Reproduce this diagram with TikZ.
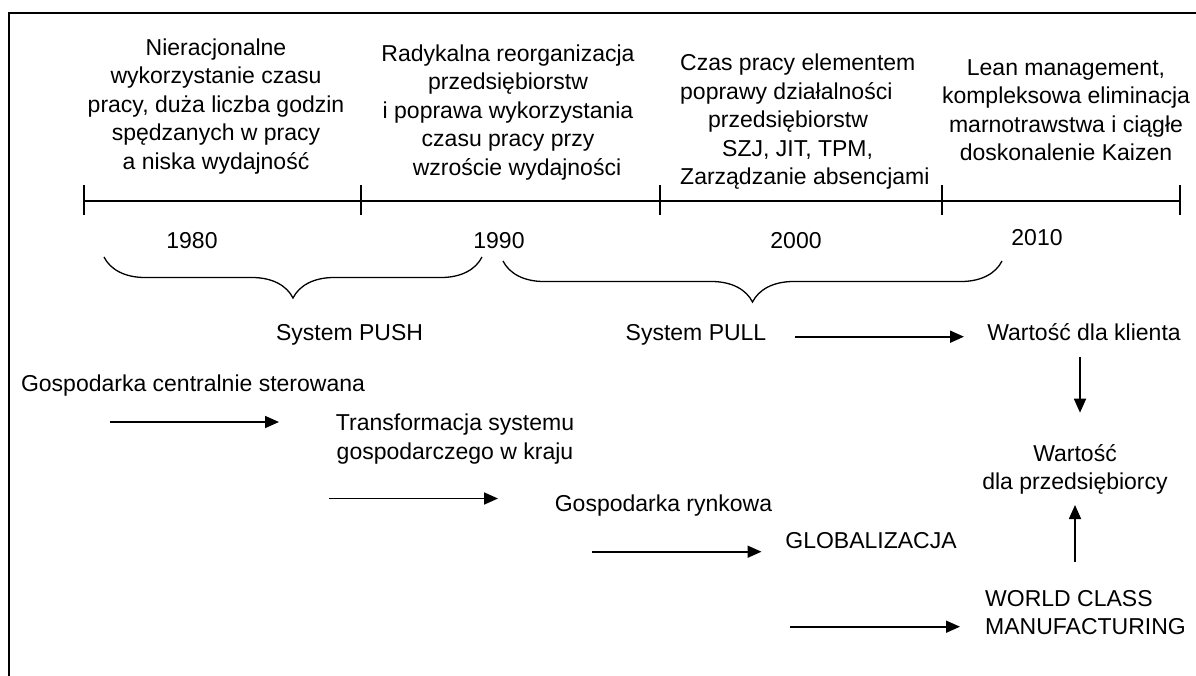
\documentclass[tikz,border=0pt]{standalone}
\usepackage{fontspec}
\setmainfont{Liberation Sans}
\usetikzlibrary{arrows.meta,decorations.pathreplacing}
\begin{document}
\begin{tikzpicture}[x=1pt,y=-1pt,
  txt/.style={font=\fontsize{23}{28.5}\selectfont, inner sep=0pt, anchor=base, align=center},
  arr/.style={line width=1.7pt, -{Triangle[length=14pt,width=12pt]}},
  brc/.style={decorate, decoration={brace, amplitude=41pt, mirror}, line width=1.3pt},
  axisline/.style={line width=1.5pt}]
\useasboundingbox (0,0) rectangle (1196,675);
% frame
\draw[line width=1.8pt] (9,676) -- (9,13) -- (1197,13);
% timeline
\coordinate (t0) at (84,201);
\coordinate (t1) at (361,201);
\coordinate (t2) at (660,201);
\coordinate (t3) at (942,201);
\coordinate (t4) at (1180,201);
\draw[axisline] (t0) -- (t4);
\foreach \t in {t0,t1,t2,t3,t4}{\draw[axisline] (\t) ++(0,-16) -- ++(0,30);}
% period texts (anchor = baseline of the last line)
\node[txt] (n1) at (216,169) {Nieracjonalne\\wykorzystanie czasu\\pracy, duża liczba godzin\\spędzanych w pracy\\a niska wydajność};
\node[txt] (n2) at (508,175) {Radykalna reorganizacja\\przedsiębiorstw\\i poprawa wykorzystania\\czasu pracy przy\\\hspace*{18pt}wzroście wydajności};
\node[txt, align=left, anchor=base west] (n3) at (680,184.5) {Czas pracy elementem\\poprawy działalności\\\hspace*{28pt}przedsiębiorstw\\\hspace*{42pt}SZJ, JIT, TPM,\\Zarządzanie absencjami};
\node[txt] (n4) at (1066,160.5) {Lean management,\\kompleksowa eliminacja\\marnotrawstwa i ciągłe\\doskonalenie Kaizen};
% years
\node[txt] (y1980) at (192,248) {1980};
\node[txt] (y1990) at (499,248) {1990};
\node[txt] (y2000) at (796,248) {2000};
\node[txt] (y2010) at (1037,245) {2010};
% braces
\coordinate (b1a) at (104,257);
\coordinate (b1b) at (482,257);
\coordinate (b2a) at (503,261);
\coordinate (b2b) at (1002,261);
\draw[brc] (b1a) -- (b1b);
\draw[brc] (b2a) -- (b2b);
% lower texts
\node[txt] (push) at (349.5,340.7) {System PUSH};
\node[txt] (pull) at (696,340.7) {System PULL};
\node[txt] (klient) at (1084,340) {Wartość dla klienta};
\node[txt] (centr) at (193,391) {Gospodarka centralnie sterowana};
\node[txt] (transf) at (455,459.2) {Transformacja systemu\\gospodarczego w kraju};
\node[txt] (rynek) at (663.5,511.7) {Gospodarka rynkowa};
\node[txt] (glob) at (871,548) {GLOBALIZACJA};
\node[txt, font=\fontsize{23}{27.3}\selectfont] (przeds) at (1075,489) {Wartość\\dla przedsiębiorcy};
\node[txt, font=\fontsize{23}{27.3}\selectfont, align=left, anchor=base west] (wcm) at (985,634) {WORLD CLASS\\MANUFACTURING};
% arrows
\coordinate (a1s) at (110,422);   \coordinate (a1e) at (279,422);
\coordinate (a2s) at (329,498.5); \coordinate (a2e) at (498,498.5);
\coordinate (a3s) at (592,551.7); \coordinate (a3e) at (761.5,551.7);
\coordinate (a4s) at (790,626.7); \coordinate (a4e) at (960,626.7);
\coordinate (a5s) at (795,336.7); \coordinate (a5e) at (964,336.7);
\coordinate (a6s) at (1080,356.7); \coordinate (a6e) at (1080,412.7);
\coordinate (a7s) at (1075,561.7); \coordinate (a7e) at (1075,505);
\draw[arr] (a1s) -- (a1e);
\draw[arr] (a2s) -- (a2e);
\draw[arr] (a3s) -- (a3e);
\draw[arr] (a4s) -- (a4e);
\draw[arr] (a5s) -- (a5e);
\draw[arr] (a6s) -- (a6e);
\draw[arr] (a7s) -- (a7e);
\end{tikzpicture}
\end{document}
